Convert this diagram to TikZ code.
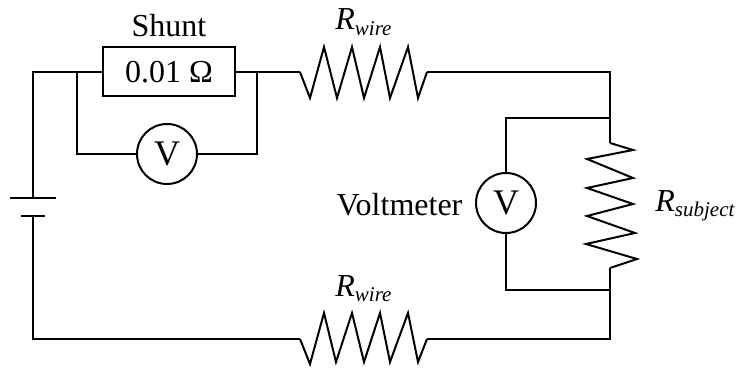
\documentclass[tikz,border=0pt]{standalone}
\usepackage{fontspec}
\setmainfont{Liberation Serif}
\newcommand{\rlabel}[1]{\textit{R}\raisebox{-.35ex}{\fontsize{10.5}{12}\selectfont\textit{#1}}}
\tikzset{
  wire/.style={line width=1pt},
  meter/.style={draw,circle,line width=1pt,minimum size=30pt,inner sep=0pt,font=\fontsize{18}{20}\selectfont},
  label/.style={font=\fontsize{16}{18}\selectfont,inner sep=0pt}
}

\begin{document}
\begin{tikzpicture}[x=.5pt,y=-.5pt,node distance=23pt]
                \useasboundingbox (0,0) rectangle (738,369);
                \node[draw,rectangle,line width=1pt,minimum width=66pt,minimum height=24.5pt,inner sep=0pt,font=\fontsize{16}{18}\selectfont] (shunt) at (169,72) {0.01 Ω};
                \node[label] (shuntname) [above of=shunt] {Shunt};
                \node[meter] (vshunt) at (167,154) {V};
                \node[meter] (vsubject) at (506,203) {V};
                \node[label] (vname) [left of=vsubject,xshift=-30.25pt,yshift=-1pt] {Voltmeter};
                \node[label,anchor=base west] (rtop) at (335,30) {\rlabel{wire}};
                \node[label,anchor=base west] (rbot) at (335,296) {\rlabel{wire}};
                \node[label,anchor=base west] (rsub) at (655,211) {\rlabel{subject}};

                \coordinate (tl) at (33,72);
                \coordinate (bl) at (33,339);
                \coordinate (plus) at (33,198);
                \coordinate (minus) at (33,216);
                \coordinate (j1) at (77,72);
                \coordinate (j2) at (257,72);
                \coordinate (r1a) at (300,72);
                \coordinate (r1b) at (427,72);
                \coordinate (r2a) at (300,339);
                \coordinate (r2b) at (427,339);
                \coordinate (tr) at (610,72);
                \coordinate (br) at (610,339);
                \coordinate (j3) at (610,118);
                \coordinate (j4) at (610,290);
                \coordinate (r3a) at (610,143);
                \coordinate (r3b) at (610,268);

                \draw[wire]
                (plus) -- (tl) -- (shunt.west)
                (shunt.east) -- (r1a)
                (r1b) -- (tr) -- (r3a)
                (r3b) -- (br) -- (r2b)
                (r2a) -- (bl) -- (minus)
                (j1) |- (vshunt.west)
                (j2) |- (vshunt.east)
                (j3) -| (vsubject.north)
                (j4) -| (vsubject.south)
                ([xshift=-11.5pt]plus) -- ([xshift=11.5pt]plus)
                ([xshift=-6pt]minus) -- ([xshift=6pt]minus);

                \draw[wire,miter limit=10]
                (r1a) -- ++(10,26) -- ++(14,-51) -- ++(13,51) -- ++(15,-51) -- ++(12,51) -- ++(16,-51) -- ++(10,51) -- ++(18,-51) -- ++(10,51) -- (r1b)
                (r2a) -- ++(10,25) -- ++(14,-51) -- ++(12,49) -- ++(16,-49) -- ++(12,49) -- ++(16,-49) -- ++(10,49) -- ++(18,-49) -- ++(10,49) -- (r2b)
                (r3a) -- (633,150) -- (587,159) -- (633,178) -- (587,188) -- (633,204) -- (587,216) -- (635,233) -- (586,244) -- (637,259) -- (r3b);
            \end{tikzpicture}
\end{document}
